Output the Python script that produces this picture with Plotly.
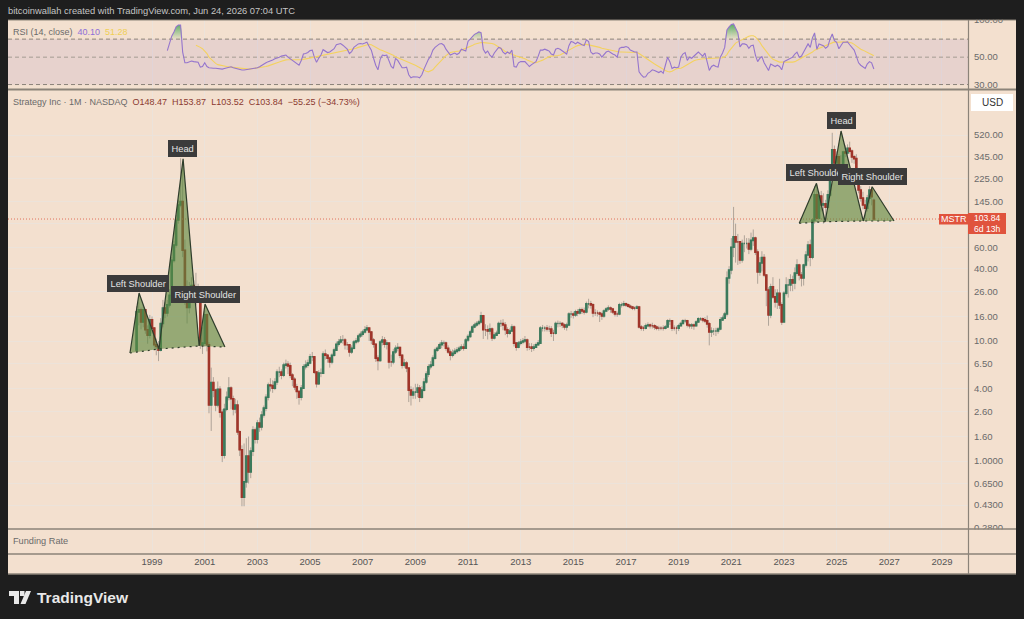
import pandas as pd
import plotly.graph_objects as go

# ---------- data ----------
FIRST_OPEN = 8.4
LAST_OPEN = 148.47
C98 = [17.5,18.2,14.4,18.2,12.4,11.2,15]
H98 = [19.5,21,19,20,18.5,13.5,16.5]
L98 = [8.0,13.5,12.5,13,11.5,9.5,10.5]
C99 = [12.8,9.3,9.0,8.4,14,18.8,17.1,20,24,47,63,102]
H99 = [16,13,10.5,10,15.5,22,21,22,27,50,68,112]
L99 = [11.5,8.8,7.6,6.8,8.2,13,15.5,16,19,23,45,60]
C00 = [136,145,57,26.6,19,25,29,24,27,24,9.3,9.6]
H00 = [150,333,300,70,32,31,34,32,37,30,25,13]
L00 = [95,130,50,20,14,17,22,21,20,22,8.6,7.8]
C01 = [16.5,9.3,2.93,4.5,3.9,2.93,3.96,2.55,1.12,2.7,3.4,4.05]
H01 = [18,17,9.8,6,5,4,4.6,4.2,2.7,3,3.8,5]
L01 = [9,8.2,2.5,1.78,3.4,2.6,2.8,2.3,.98,1.05,2.6,3.2]
C02 = [3.3,2.72,2.93,1.75,1.24,.5,.67,1.1,.81,1.21,1.81,1.52]
H02 = [4.2,3.5,3.3,3.2,1.8,1.35,1.4,1.55,1.6,1.3,1.95,1.9]
L02 = [2.7,2.4,2.5,1.65,1.1,.42,.42,.6,.65,.72,1.1,1.4]
C03 = [2.07,1.92,2.42,2.76,3.4,4.3,4.25,4.05,4.55,5.5,5.5,5.2]
H03 = [2.2,2.3,2.6,2.9,3.6,4.5,4.9,4.7,4.9,5.8,6.1,5.8]
L03 = [1.4,1.75,1.8,2.3,2.6,3.2,3.8,3.7,3.9,4.3,5,4.8]
C04 = [6.3,6.4,6.2,5.2,4.8,4.15,3.8,3.4,4.05,6.1,6.3,6.55]
H04 = [6.6,7,6.8,6.6,5.4,5,4.4,3.9,4.3,6.4,6.9,7]
L04 = [5,5.9,5.3,4.9,4.2,3.9,3.3,2.95,3.2,4,5.8,6]
C05 = [7.4,7.4,5.5,4.4,5.4,5.4,7.8,7.6,7.2,6.7,7.6,8.4]
H05 = [7.8,8.1,7.5,5.6,5.7,5.9,8.2,8.5,7.8,7.4,7.9,8.8]
L05 = [6.4,6.8,5.3,4.1,4.3,5,5.3,7,6.6,6,6.4,7.4]
C06 = [9.4,9.8,10.2,10.2,9.3,9.3,8.1,8.7,9.8,10,11,11.4]
H06 = [9.9,10.4,11,11.2,10.6,9.8,9.4,9.2,10.2,10.6,11.5,12]
L06 = [8.3,9,9.5,9.5,8.5,8.4,7.4,7.8,8.5,9.4,9.6,10.6]
C07 = [11.9,12.4,12.8,11.9,10.2,9.4,7.2,6.9,9.8,10.2,9.4,9.6]
H07 = [12.4,13.3,13.6,13,12.1,10.6,9.6,7.6,10.2,11,10.8,10.2]
L07 = [10.9,11.5,12.1,10,9.4,8.8,6.7,5.7,6.7,9.2,8.8,8.5]
C08 = [6.7,6.7,8.1,8.7,8.8,7.6,6.3,6.55,5.95,3.9,3.55,3.75]
H08 = [9.5,7.7,8.6,9.2,9.6,9,7.8,7.1,6.8,6,4.2,4.1]
L08 = [5.9,6.1,6.4,7.8,8.2,7.2,5.9,6,5.5,3.1,2.9,3.3]
C09 = [3.75,4.05,3.4,3.9,4.55,5.3,6.1,6.3,7.2,8.4,8.7,9.3]
H09 = [4.4,4.4,4.3,4.2,4.9,5.6,6.4,6.8,7.6,8.8,9.1,9.7]
L09 = [3.3,3.4,3.1,3.3,3.8,4.4,5,5.8,6.1,7,8.1,8.5]
C10 = [9.6,9.6,8.7,8.1,7.6,7.9,8.2,8.4,8.7,8.9,8.7,10.2]
H10 = [10.2,10.1,9.9,9.2,8.5,8.5,8.7,8.9,9.1,9.4,9.5,10.6]
L10 = [8.7,9,8.3,7.8,6.9,7.3,7.6,7.9,8.1,8.4,8.3,8.6]
C11 = [10.9,11.9,13.1,13.6,14,14.4,16.2,12.4,12.4,12.1,12.6,10.6]
H11 = [11.4,12.4,13.6,14.2,14.6,15,17.5,16.5,13.8,13.5,14,13]
L11 = [9.8,10.6,11.7,12.8,13.1,13.5,14,10.4,11,10.3,11.3,10]
C12 = [11.2,11.6,14,14,13.6,12.4,11.6,12.1,13.1,9.6,8.9,9.6]
H12 = [11.8,12.2,14.5,15,15.2,14.4,13,12.7,13.8,13.5,9.8,10]
L12 = [10.3,11,11.4,13.1,12.3,11.2,10.7,11.3,11.9,9,8.3,8.7]
C13 = [9.8,10,10.2,8.9,8.9,8.7,8.9,9.3,9.6,12.8,12.8,12.8]
H13 = [10.4,10.6,11,10.5,9.6,9.6,9.4,9.7,10.2,13.3,13.6,13.3]
L13 = [9.2,9.4,9.6,8.3,8.4,8.1,8.3,8.8,9.1,9.5,12,12]
C14 = [12.6,12.6,11.6,11.6,14,14,14,13.6,13.1,13.6,16.8,16.8]
H14 = [13.6,13.4,13.3,12.4,14.5,14.8,14.6,14.4,14,14.2,17.4,17.8]
L14 = [12,11.9,10.8,10,11.3,13,13.1,12.8,12.4,12.2,13.3,15.6]
C15 = [16.5,17.5,17.1,18.2,17.8,17.5,20.4,20.4,20,17.1,17.1,17.1]
H15 = [17.6,18.2,18.4,19,19,19,21.3,22.5,21.6,20.6,18.4,18]
L15 = [15.4,15.9,16.1,16.6,16.8,16.6,17,18.7,18.6,15.8,16.2,16]
C16 = [16.8,16.2,17.8,18.5,18.8,18.5,17.5,16.8,16.8,20,20,20.4]
H16 = [17.6,17.5,18.4,19.2,19.8,19.4,18.9,17.9,17.6,20.8,20.9,21.6]
L16 = [14.4,15,15.6,17.4,17.8,17.2,16.8,16,15.9,16.4,19,19.4]
C17 = [20,19.5,19.2,18.8,18.8,19.2,13.1,12.8,12.8,13.4,13.6,13.4]
H17 = [20.9,20.5,20.1,19.6,19.4,19.9,19.6,13.6,13.4,14,14.3,14]
L17 = [19.2,18.9,18.5,18.1,18,18.5,12.7,12.2,12.1,12.5,13,12.7]
C18 = [13.4,13.1,12.8,12.8,12.8,12.8,13.1,14.7,14.7,12.8,12.8,12.8]
H18 = [14.2,13.8,13.5,13.4,13.3,13.5,13.6,15.2,15.4,14.9,13.5,13.4]
L18 = [12.7,12.4,12.3,12.2,12.3,12.2,12.5,13,13.6,12.1,12.2,11.4]
C19 = [13.4,14,14.7,14.7,13.6,13.4,13.6,13.4,14.4,15.3,15.3,15]
H19 = [13.9,14.5,15.2,15.3,15,14,14.1,14,14.9,15.8,15.8,15.7]
L19 = [12.1,13.2,13.8,14.1,13,12.7,12.6,12.4,13.2,14.3,14.7,14.3]
C20 = [14.7,13.9,11.9,12.1,12.1,12.1,12.6,15,15.5,16.8,33.5,39]
H20 = [15.8,16.3,14.4,13,12.8,12.9,13.1,15.8,16.3,17.5,38,42]
L20 = [14.1,12.9,9.2,10.8,11.2,11,11.5,12.3,14.7,15.2,16,30]
C21 = [60.5,74,67,67,47.3,65,65,65,58.5,69,72,55]
H21 = [72,131,95,78,68,70,76,72,72,80,85,74]
L21 = [36,50,45,43,44,45,55,59,53,56,62,52]
C22 = [37.6,44.6,49.5,35.5,26.6,16.5,28.3,23.3,21.2,25,20,14.4]
H22 = [58,50,56,53,36,28,30,34,27,27,33,21]
L22 = [30,35,38,34,19.5,13.4,15.5,22.5,19,18.5,18.5,13.6]
C23 = [25,29.3,29.3,32.3,30.4,36.8,43,35.5,33.5,43,52,63]
H23 = [26,34,33,36,35,41,48,44,37.5,44,56,68]
L23 = [14.7,24,23,26,26,27,35,32,28.5,29,41,46]
C24 = [50,102,165,105.6,161,136,139,130,165,251,391,304]
H24 = [70,105,195,200,175,178,170,150,180,255,543,425]
L24 = [42,48,95,99,103,120,95,105,125,160,240,285]
C25 = [342,288,256,375,368,404,382,342,331,242,181,155]
H25 = [380,360,355,385,425,435,458,395,355,360,250,195]
L25 = [235,250,235,245,340,350,365,305,300,230,170,145]
C26 = [136,128,155,181,159,103.84]
H26 = [175,150,165,195,188,153.87]
L26 = [125,105,120,140,135,103.52]

RSI_VALUES = [
 56.5,66,74,80,88,
 91,91,55,45,45,46,46.5,46,46,45.5,41.5,42,
 45,42,41,40.7,40.7,40.7,40.3,40.3,40,40.5,41,41.5,
 41.8,41,40.5,40,39.7,39.3,39.3,39.5,40,40.2,40.3,40.7,
 41,41.8,43,44,45,46,46.5,47.5,48.5,49,50,51,
 51.5,52,50,48.5,47,45.5,44.5,43,47,53,53.5,54.5,
 56.5,57,50,45.5,49,52,57.5,56,54.5,55,56.5,58.5,
 63,64,64.5,62.5,60,58,53.5,55.5,60,62,64,64.5,
 64,65,66,61,57,49,43,39.5,48,52,51.5,52,
 47,42,40.5,48.8,47,44,41,41,41.5,36,34,34.7,
 34.7,34.5,34,36,40,44,48,51,57,60,62,64,
 64.5,62.5,58,55,52,53,54,52.5,54,58,57,56,
 67,70,74,76.5,78,80,79,58,54,56,52,50,
 54,57,60,59,55,53,55,53.5,57,42,41.5,45,
 46,46,46,44,42,43.5,45,46,51,57,57,58,
 57,56,53,52,58,59,58,56,54,53,62,67,
 66,64,66,64,63,62,69,67,55,53,54,54,
 53,50,52,55,56,54,53,52,50,59,60,60,
 61,60,57,56,55,55,38,36,34.5,34.7,37,38,
 39.5,39,38,37.5,38.5,37,43,50,46,40.5,41.5,41,
 41.5,50,53,54.5,47,50,49,51,53,55,53,51,
 54,46,39,42,43,42,41.5,50,54,60,83,88,
 92,93,86,79,60.5,64,64,63,59,62,62.5,52,
 46,49,50.5,45,42,39,44,43,42,43,42,39.5,
 46,47,48,49,50,53,55,50,51,55,60,64,
 60,72,78.6,58,64,63,62,59,61,70,77,68,
 66,58.5,62,66,66,66.5,63,60,57,51,45,43,
 41.5,40.5,44,46,45,40.1]
RSI_MA_VALUES = [
 62.5,61.5,60,58.5,
 56,53.5,50,48,45.5,44.5,43.5,43,42.7,42.3,42,41.7,
 41.5,41.2,41,40.7,40.4,40.2,40,40,40,40.2,40.4,40.6,
 41,41,41.2,41.5,42,42.5,43,43.4,44,44.8,45.6,46.3,
 47,47.5,47.6,47.5,47.4,47.3,47.3,47.4,47.6,48,48.4,48.8,
 49.4,49.8,50,50.5,51,51.4,52,52.3,52.8,53.2,53.6,54,
 54.4,55,55.4,55.8,56.2,56.8,57,57.6,58.4,59,60,60.6,
 61.5,62,63,63.5,63,61.5,59.5,58.5,57.5,56.5,55.5,55,
 54,52.8,51.8,50.3,49.5,48.5,47.5,46.5,45.8,45,44.5,44,
 43,42,41,40.3,39.3,38.4,38,38.5,39.5,41.5,43.5,45.5,
 48,50,51.5,53,54.5,55,55.3,55.5,56,57,58,59,
 59.8,60.5,62,63.5,64.5,65.5,65.7,65.6,65.5,65.3,65,64.5,
 63.5,62,60.5,59,57.5,55.5,54.5,53.5,52.5,51.5,51,50.5,
 50,49,48.5,47.5,46.5,45.5,45,45,45.5,46.5,47.3,48.5,
 49.5,50.5,51,51,51,51.5,52,53,54,55.5,57,58.5,
 60,61,62,62.5,63.5,63.7,63.5,63,62.5,62,61,60.5,
 60,59,58.5,58,57.5,56.5,56,55.5,55,55,55,55,
 55,55,55,55,54.8,54.5,53.5,52,50,48.5,47.5,46.5,
 45,44,43,41.8,41,40,39,38.3,38,38.5,39.5,40.3,
 40.5,40.7,41.5,42.5,44,45,46,46.8,47.5,48,48.3,48.5,
 48.5,48.6,48.6,48.5,48.5,48.6,48.7,48.8,49.5,50.3,52.5,56,
 59,62,65,66.5,68,70,71.5,73,73.8,74.5,74.5,73,
 70,66,62,58.5,55.5,52,50,48,47,46,45.6,45.6,
 45.5,45.5,45.5,45.6,45.6,46,47,48,49,50,51.5,52.5,
 53.5,55,57,58,59.5,60.5,61,62,63.5,65,66,66.5,
 66,66.3,66.3,66.5,66.5,66.3,66,65,63.5,61.5,59.5,58,
 57,55.5,54.5,53.5,52.5,51.3]

HS1_DATES = ["1998-03-01","1998-07-05","1999-04-07","2000-03-07","2000-10-15","2001-01-05","2001-10-08"]
HS1_PRICES = [7.94,25.1,8.58,329,9.09,20.3,8.91]
HS2_DATES = ["2023-08-01","2024-03-27","2024-07-26","2025-03-03","2026-01-05","2026-05-08","2027-03-08"]
HS2_PRICES = [95.7,206,98.7,562,100,193,100]
PRICE_TICKS = [520,345,225,145,95,60,40,26,16,10,6.5,4,2.6,1.6,1,0.65,0.43,0.28]
PRICE_LABELS = ["520.00","345.00","225.00","145.00","","60.00","40.00","26.00","16.00","10.00",
                "6.50","4.00","2.60","1.60","1.0000","0.6500","0.4300","0.2800"]
RSI_TICKS = [100,50,30]
RSI_LABELS = ["100.00","50.00","30.00"]
YEAR_LABELS = ["1999","2001","2003","2005","2007","2009","2011","2013","2015","2017","2019","2021","2023","2025","2027","2029"]
LAST_PRICE = 103.84

# ---------- assembly ----------
closes = (C98+C99+C00+C01+C02+C03+C04+C05+C06+C07+C08+C09+C10+C11+C12+C13+C14+C15+C16+C17+C18+C19+C20+C21+C22+C23+C24+C25+C26)
highs = (H98+H99+H00+H01+H02+H03+H04+H05+H06+H07+H08+H09+H10+H11+H12+H13+H14+H15+H16+H17+H18+H19+H20+H21+H22+H23+H24+H25+H26)
lows = (L98+L99+L00+L01+L02+L03+L04+L05+L06+L07+L08+L09+L10+L11+L12+L13+L14+L15+L16+L17+L18+L19+L20+L21+L22+L23+L24+L25+L26)
opens = [FIRST_OPEN] + closes[:-1]
opens[-1] = LAST_OPEN
dates = pd.date_range("1998-06-01", periods=len(closes), freq="MS")
rsi_dates = pd.date_range("1999-08-01", periods=len(RSI_VALUES), freq="MS")
ma_dates = pd.date_range("2000-09-01", periods=len(RSI_MA_VALUES), freq="MS")
X_RANGE = ["1993-07-13", "2029-12-28"]
year_ticks = [y + "-01-01" for y in YEAR_LABELS]

W, H = 1024, 619
fx = lambda px: px / W
fy = lambda py: 1 - py / H
BG = "#f3e0cf"; DARK = "#1e1e1e"; SEP = "#8b8379"; GRID = "#ece3da"; TXT = "#6a6a6a"
FONT = "Liberation Sans"

fig = go.Figure()
# RSI pane
fig.add_trace(go.Scatter(x=X_RANGE, y=[30, 30], xaxis="x", yaxis="y", mode="lines",
                         line=dict(color=SEP, width=1, dash="4px,3px"), hoverinfo="skip"))
fig.add_trace(go.Scatter(x=X_RANGE, y=[70, 70], xaxis="x", yaxis="y", mode="lines", fill="tonexty",
                         fillcolor="rgba(126,87,194,0.10)", line=dict(color=SEP, width=1, dash="4px,3px"), hoverinfo="skip"))
fig.add_trace(go.Scatter(x=X_RANGE, y=[50, 50], xaxis="x", yaxis="y", mode="lines",
                         line=dict(color="#a59c92", width=1, dash="4px,3px"), hoverinfo="skip"))
rsi_top = [max(v, 70) for v in RSI_VALUES]
fig.add_trace(go.Scatter(x=list(rsi_dates) + list(rsi_dates[::-1]), y=rsi_top + [70] * len(rsi_top),
                         xaxis="x", yaxis="y", mode="none", fill="toself",
                         fillgradient=dict(type="vertical", colorscale=[[0, "rgba(76,175,80,0.05)"], [1, "rgba(60,160,80,0.85)"]]),
                         hoverinfo="skip"))
fig.add_trace(go.Scatter(x=ma_dates, y=RSI_MA_VALUES, xaxis="x", yaxis="y", mode="lines",
                         line=dict(color="#f4d25f", width=1.1), hoverinfo="skip"))
fig.add_trace(go.Scatter(x=rsi_dates, y=RSI_VALUES, xaxis="x", yaxis="y", mode="lines",
                         line=dict(color="#9575cd", width=1.1), hoverinfo="skip"))
# Main pane: wicks, then bodies
fig.add_trace(go.Candlestick(x=dates, open=opens, high=highs, low=lows, close=closes, xaxis="x2", yaxis="y2",
                             increasing=dict(line=dict(color="rgba(120,115,110,0.55)", width=1), fillcolor="rgba(0,0,0,0)"),
                             decreasing=dict(line=dict(color="rgba(120,115,110,0.55)", width=1), fillcolor="rgba(0,0,0,0)"),
                             hoverinfo="skip"))
fig.add_trace(go.Candlestick(x=dates, open=opens, close=closes,
                             high=[max(o, c) for o, c in zip(opens, closes)],
                             low=[min(o, c) for o, c in zip(opens, closes)],
                             xaxis="x2", yaxis="y2",
                             increasing=dict(line=dict(color="#3b7a5c", width=1.6), fillcolor="#2e7d5b"),
                             decreasing=dict(line=dict(color="#a0352a", width=1.6), fillcolor="#a62a22"),
                             hoverinfo="skip"))
fig.add_trace(go.Scatter(x=X_RANGE, y=[LAST_PRICE, LAST_PRICE], xaxis="x2", yaxis="y2", mode="lines",
                         line=dict(color="#e0705c", width=1, dash="1px,2px"), hoverinfo="skip"))
# Head & shoulders drawings
for ds, ps in ((HS1_DATES, HS1_PRICES), (HS2_DATES, HS2_PRICES)):
    for i in (0, 2, 4):
        fig.add_trace(go.Scatter(x=ds[i:i+3] + [ds[i]], y=ps[i:i+3] + [ps[i]], xaxis="x2", yaxis="y2", mode="none",
                                 fill="toself", fillcolor="rgba(92,135,62,0.62)", hoverinfo="skip"))
    fig.add_trace(go.Scatter(x=ds, y=ps, xaxis="x2", yaxis="y2", mode="lines",
                             line=dict(color="#2f3d2c", width=1.2), hoverinfo="skip"))
    fig.add_trace(go.Scatter(x=[ds[0], ds[2], ds[4], ds[6]], y=[ps[0], ps[2], ps[4], ps[6]], xaxis="x2", yaxis="y2",
                             mode="lines", line=dict(color="#2f3d2c", width=1.2, dash="2px,4px"), hoverinfo="skip"))
# Funding pane has no data of its own
fig.add_trace(go.Scatter(x=X_RANGE, y=[None, None], xaxis="x3", yaxis="y3", mode="lines", hoverinfo="skip"))


def xax(**kw):
    d = dict(type="date", range=X_RANGE, showgrid=True, gridcolor=GRID, gridwidth=1, tickmode="array",
             tickvals=year_ticks, ticktext=YEAR_LABELS,
             zeroline=False, showline=False, ticks="", showticklabels=False, domain=[fx(8), fx(968)],
             rangeslider=dict(visible=False), fixedrange=True)
    d.update(kw)
    return d


def rect(x0, y0, x1, y1, fill, layer="below"):
    return dict(type="rect", xref="paper", yref="paper", x0=fx(x0), x1=fx(x1), y0=fy(y0), y1=fy(y1),
                fillcolor=fill, line=dict(width=0), layer=layer)


def hline(py, x0=8, x1=1016, w=1.5):
    return dict(type="line", xref="paper", yref="paper", x0=fx(x0), x1=fx(x1), y0=fy(py), y1=fy(py),
                line=dict(color=SEP, width=w), layer="above")


def poly(pts, fill):
    p = "M " + " L ".join(f"{fx(a):.5f} {fy(b):.5f}" for a, b in pts) + " Z"
    return dict(type="path", xref="paper", yref="paper", path=p, fillcolor=fill, line=dict(width=0), layer="above")


def note(px, py, text, size=9.2, color=TXT, anchor="left", **kw):
    return dict(xref="paper", yref="paper", x=fx(px), y=fy(py), text=text, showarrow=False, xanchor=anchor,
                yanchor="middle", font=dict(family=FONT, size=size, color=color), **kw)


def label(cx, cy, text):
    return note(cx, cy, text, size=9.3, color="#e4e4e4", anchor="center", bgcolor="#3b3b3b", bordercolor="#3b3b3b",
                borderpad=2.5)


VAL = "#8b3a30"
shapes = [
    rect(8, 20, 1016, 574, BG),
    rect(0, 0, W, 19.5, DARK, "above"),
    rect(969, 529.5, 1016, 553, BG, "above"),
    hline(20, w=1), hline(89.5, w=2), hline(529), hline(554), hline(574),
    dict(type="line", xref="paper", yref="paper", x0=fx(968.5), x1=fx(968.5), y0=fy(20), y1=fy(574),
         line=dict(color=SEP, width=1.2), layer="above"),
    rect(939, 214, 968, 224.5, "#e0533d", "above"),
    rect(968, 213, 1006, 234, "#e0533d", "above"),
    rect(971, 94, 1013, 111, "#ffffff", "above"),
    poly([(9, 591), (19, 591), (19, 604), (14, 604), (14, 596), (9, 596)], "#e8e8e8"),
    poly([(20, 591), (24.5, 591), (24.5, 596), (20, 596)], "#e8e8e8"),
    poly([(26, 591), (31, 591), (25.5, 604), (20.5, 604)], "#e8e8e8"),
]

annotations = [
    note(6, 11, "bitcoinwallah created with TradingView.com, Jun 24, 2026 07:04 UTC", size=9.35, color="#c4c4c4"),
    note(11, 31.5, 'RSI (14, close)  <span style="color:#8e6fd8">40.10</span>  <span style="color:#f0cf55">51.28</span>', size=9),
    note(11, 102, f'Strategy Inc · 1M · NASDAQ  <span style="color:{VAL}">O148.47</span>  <span style="color:{VAL}">H153.87</span>  '
                  f'<span style="color:{VAL}">L103.52</span>  <span style="color:{VAL}">C103.84</span>  '
                  f'<span style="color:{VAL}">−55.25 (−34.73%)</span>', size=9),
    note(11, 541, "Funding Rate", size=9.2),
    note(992, 102.5, "USD", size=10, color="#333333", anchor="center"),
    note(953.5, 219.3, "MSTR", size=9, color="#ffffff", anchor="center"),
    note(987, 223.5, "103.84<br>6d 13h", size=8.6, color="#ffffff", anchor="center"),
    label(182.5, 149, "Head"),
    label(138, 283.5, "Left Shoulder"),
    label(205, 294, "Right Shoulder"),
    label(841, 120, "Head"),
    label(817, 173, "Left Shoulder"),
    label(872, 176, "Right Shoulder"),
    note(35, 597, "<b>TradingView</b>", size=15.5, color="#e8e8e8"),
]

fig.update_layout(
    width=W, height=H, autosize=False, margin=dict(l=0, r=0, t=0, b=0, pad=0, autoexpand=False), showlegend=False,
    paper_bgcolor=DARK, plot_bgcolor="rgba(0,0,0,0)", hovermode=False, dragmode=False,
    font=dict(family=FONT, size=9.5, color=TXT),
    xaxis=xax(anchor="y"),
    xaxis2=xax(anchor="y2", matches="x"),
    xaxis3=xax(anchor="y3", matches="x", showticklabels=True, side="bottom",
               tickfont=dict(family=FONT, size=9.5, color="#555555")),
    yaxis=dict(type="log", range=[1.441, 2.0], domain=[fy(89), fy(20)], anchor="x", side="right", tickvals=RSI_TICKS,
               ticktext=RSI_LABELS, showgrid=False, zeroline=False, showline=False, ticks="", ticklabelstandoff=5,
               tickfont=dict(family=FONT, size=9.5, color=TXT), fixedrange=True),
    yaxis2=dict(type="log", range=[-0.558, 3.083], domain=[fy(528), fy(91)], anchor="x2", side="right",
                tickvals=PRICE_TICKS, ticktext=PRICE_LABELS, showgrid=True, gridcolor=GRID, zeroline=False,
                showline=False, ticks="", ticklabelstandoff=5, tickfont=dict(family=FONT, size=9.5, color=TXT),
                fixedrange=True),
    yaxis3=dict(range=[0, 1], domain=[fy(554), fy(529.5)], anchor="x3", showgrid=False, zeroline=False,
                showticklabels=False, showline=False, ticks="", fixedrange=True),
    shapes=shapes, annotations=annotations,
)

fig.write_html("out.html", config=dict(displayModeBar=False),
               post_script=("document.documentElement.style.cssText='margin:0;height:619px;overflow:hidden;background:#1e1e1e';"
                            "document.body.style.cssText='margin:0;height:619px;overflow:hidden;background:#1e1e1e';"
                            "var g=document.getElementById('{plot_id}');g.style.position='absolute';g.style.left='0';g.style.top='0';"))
